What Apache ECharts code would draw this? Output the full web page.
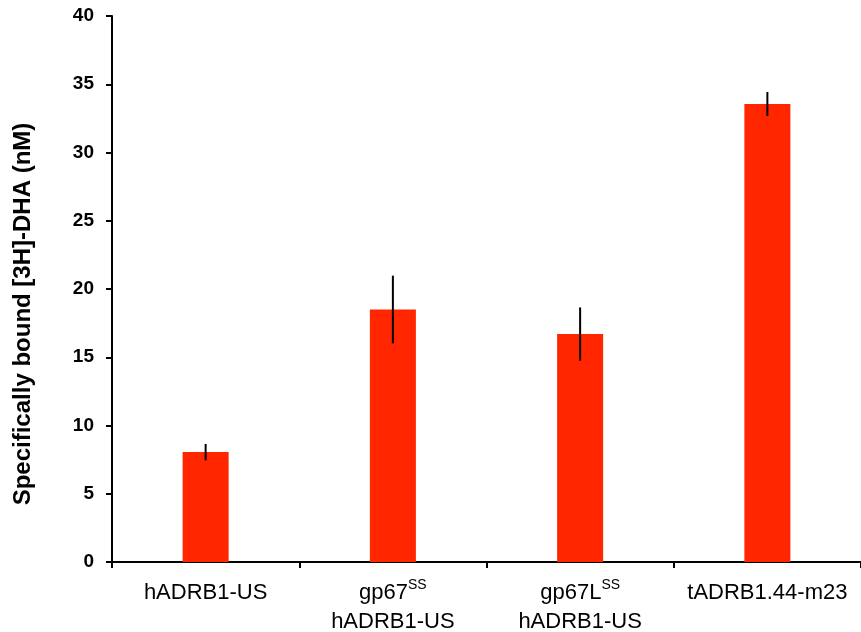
<!DOCTYPE html>
<html>
<head>
<meta charset="utf-8">
<script src="https://cdn.jsdelivr.net/npm/echarts@6/dist/echarts.min.js"></script>
<style>
  html, body { margin: 0; padding: 0; background: #fff; }
  #chart { width: 861px; height: 632px; }
</style>
</head>
<body>
<div id="chart"></div>
<script>
// Constructs (x-axis labels use rich text for the "SS" superscript)
var categories = [
  'hADRB1-US',
  'gp67{sup|SS}\nhADRB1-US',
  'gp67L{sup|SS}\nhADRB1-US',
  'tADRB1.44-m23'
];
// Specifically bound [3H]-DHA, nM (mean)
var boundMean = [8.05, 18.5, 16.7, 33.55];
// Error (± half-range of the bar whisker)
var boundErr = [0.6, 2.48, 1.95, 0.88];
// Y axis settings
var yMin = 0, yMax = 40, yStep = 5;

var chart = echarts.init(document.getElementById('chart'), null, { renderer: 'canvas' });

var errData = boundMean.map(function (v, i) {
  return [i, v - boundErr[i], v + boundErr[i]];
});

var option = {
  animation: false,
  backgroundColor: '#ffffff',
  grid: { left: 112, right: 0, top: 16, bottom: 70, containLabel: false, outerBoundsMode: 'none' },
  xAxis: {
    type: 'category',
    data: categories,
    axisLine: { show: true, lineStyle: { color: '#000', width: 2 } },
    axisTick: { show: true, length: 6, inside: false, lineStyle: { color: '#000', width: 2 } },
    axisLabel: {
      interval: 0,
      margin: 16,
      color: '#000',
      fontFamily: 'Liberation Sans, Arial, sans-serif',
      fontSize: 22,
      lineHeight: 29,
      rich: {
        sup: {
          fontFamily: 'Liberation Sans, Arial, sans-serif',
          fontSize: 14,
          lineHeight: 14,
          verticalAlign: 'top',
          color: '#000'
        }
      }
    },
    splitLine: { show: false }
  },
  yAxis: {
    type: 'value',
    min: yMin,
    max: yMax,
    interval: yStep,
    axisLine: { show: true, lineStyle: { color: '#000', width: 2 } },
    axisTick: { show: true, length: 6, lineStyle: { color: '#000', width: 2 } },
    axisLabel: {
      margin: 18,
      color: '#000',
      fontWeight: 'bold',
      fontFamily: 'Liberation Sans, Arial, sans-serif',
      fontSize: 19
    },
    splitLine: { show: false }
  },
  graphic: [{
    type: 'text',
    x: 23,
    y: 314,
    rotation: Math.PI / 2,
    style: {
      text: 'Specifically bound [3H]-DHA (nM)',
      fill: '#000',
      font: 'bold 24px "Liberation Sans", Arial, sans-serif',
      textAlign: 'center',
      textVerticalAlign: 'middle'
    }
  }],
  series: [
    {
      type: 'bar',
      data: boundMean,
      barWidth: 46,
      itemStyle: { color: '#FF2600' }
    },
    {
      type: 'custom',
      data: errData,
      z: 10,
      renderItem: function (params, api) {
        var x = api.value(0);
        var lo = api.coord([x, api.value(1)]);
        var hi = api.coord([x, api.value(2)]);
        return {
          type: 'line',
          shape: { x1: lo[0], y1: lo[1], x2: hi[0], y2: hi[1] },
          style: { stroke: '#000', lineWidth: 2 }
        };
      }
    }
  ]
};

chart.setOption(option);
</script>
</body>
</html>
